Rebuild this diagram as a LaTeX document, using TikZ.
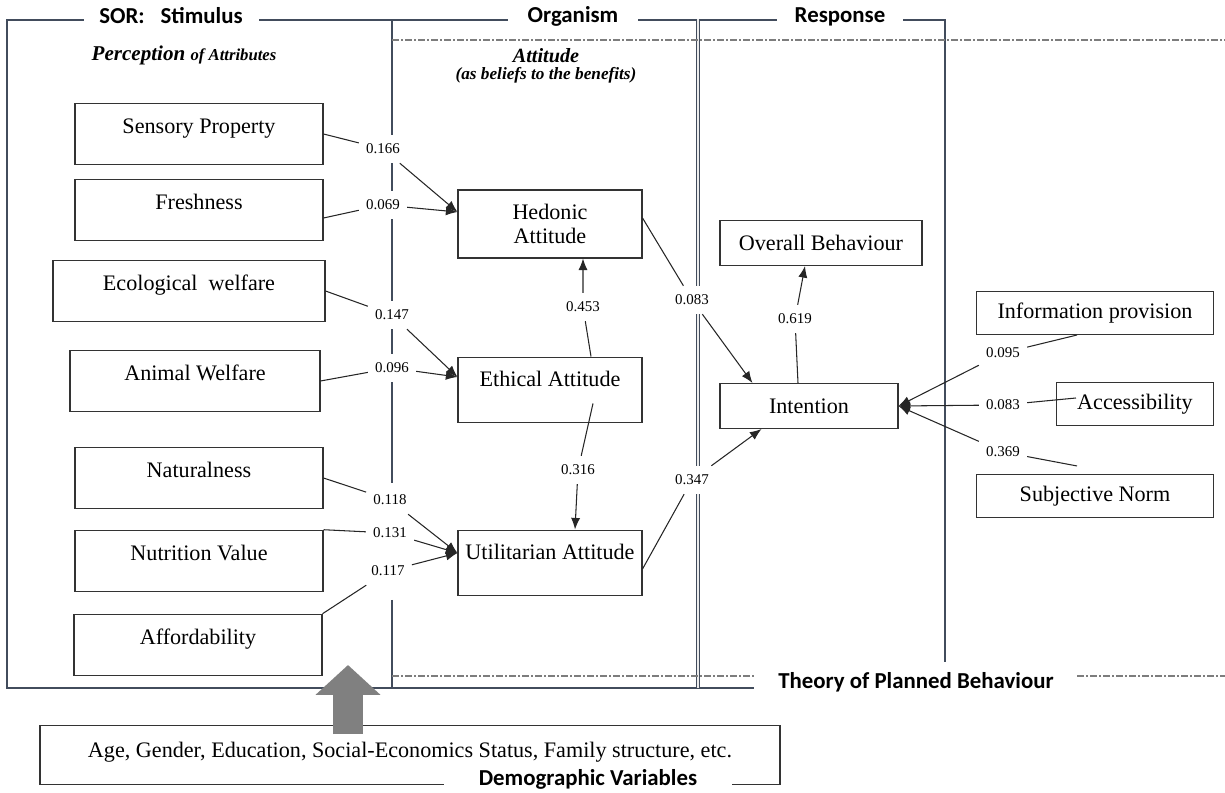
\documentclass[tikz,border=0pt]{standalone}
\usepackage{fontspec}
\setmainfont{Liberation Serif}
\newfontfamily\headfont{Carlito}
\usetikzlibrary{arrows.meta,calc}
\newlength\pxu
\setlength\pxu{0.02cm}
\definecolor{framecol}{RGB}{66,76,92}
\definecolor{dashcol}{RGB}{125,125,125}
\definecolor{demogray}{RGB}{128,128,128}
\begin{document}
\begin{tikzpicture}[x=0.02cm,y=-0.02cm]
            \tikzset{
                framing/.style={draw=framecol,line width=0.75pt},
                dashdot/.style={draw=dashcol,line width=0.6pt,dash pattern=on 4pt off 1.3pt on 0.8pt off 1.3pt},
                databox/.style={draw=black!80,line width=0.6pt,inner sep=0pt,font=\fontsize{12.6}{14}\selectfont},
                attr/.style={databox,text height=17pt,text depth=18pt,minimum width=248\pxu},
                attbox/.style={databox,text height=16.5pt,text depth=21pt,minimum width=184\pxu},
                coef/.style={fill=white,inner xsep=4pt,inner ysep=5pt,font=\fontsize{8.5}{10}\selectfont},
                headtxt/.style={fill=white,inner ysep=1pt,anchor=base,font=\headfont\bfseries\fontsize{13}{15}\selectfont},
                effect/.style={draw=black!85,line width=0.6pt,-{Latex[length=6.6pt,width=5.2pt]}},
                demoarrow/.style={draw=demogray,line width=17.6pt,-{Triangle[length=17pt,width=36pt]}},
            }
            \useasboundingbox (0,0) rectangle (1225,793);
            % frames of stimulus, organism and response
            \draw[framing] (392,20) -- (7,20) -- (7,688) -- (754,688);
            \draw[framing] (392,20) -- (392,483) (392,600) -- (392,688);
            \draw[framing] (392,20) -- (697,20);
            \draw[framing,double=white!85!gray,double distance=1.6pt,line width=0.5pt] (698,19) -- (698,688);
            \draw[framing] (700,20) -- (945,20) -- (945,662);
            \draw[dashdot] (392,40) -- (1225,40);
            \draw[dashdot] (392,676) -- (754,676) (1077,676) -- (1225,676);
            \node[headtxt,inner xsep=9pt] (sor) at (171,24) {SOR:\hspace{0.7em}Stimulus};
            \node[headtxt,inner xsep=11pt] (org) at (573,23) {Organism};
            \node[headtxt,inner xsep=10pt] (resp) at (840,23) {Response};
            \node[headtxt,fill=none] (tpb) at (916,689) {Theory of Planned Behaviour};
            \node[font=\bfseries\itshape\fontsize{12}{14}\selectfont] (perc) at (184,55) {Perception {\fontsize{9.5}{11}\selectfont of Attributes}};
            \node[inner sep=0pt,font=\bfseries\itshape\fontsize{11.5}{13}\selectfont] (att) at (546,56) {Attitude};
            \node[inner sep=0pt,font=\bfseries\itshape\fontsize{9.8}{12}\selectfont] (attsub) at (546,75) {(as beliefs to the benefits)};
            % perceived attributes
            \node[attr] (sens) at (199,134) {Sensory Property};
            \node[attr] (fresh) at (199,210) {Freshness};
            \node[attr,minimum width=272\pxu] (eco) at (189,291) {Ecological\ \ welfare};
            \node[attr,minimum width=250\pxu] (anim) at (195,381) {Animal Welfare};
            \node[attr] (nat) at (199,478) {Naturalness};
            \node[attr] (nut) at (199,561) {Nutrition Value};
            \node[attr] (aff) at (198,645) {Affordability};
            % attitudes
            \node[databox,minimum width=184\pxu,minimum height=68\pxu,align=center] (hed) at (550,224) {Hedonic\\Attitude};
            \node[attbox] (eth) at (550,390) {Ethical Attitude};
            \node[attbox] (util) at (550,563) {Utilitarian Attitude};
            % response side
            \node[databox,minimum width=202\pxu,minimum height=45\pxu] (ovb) at (821,243) {Overall Behaviour};
            \node[databox,minimum width=178\pxu,minimum height=45\pxu] (intn) at (809,406) {Intention};
            \node[databox,minimum width=237\pxu,minimum height=43\pxu] (info) at (1095,313) {Information provision};
            \node[databox,minimum width=157\pxu,minimum height=43\pxu] (acc) at (1135,404) {Accessibility};
            \node[databox,minimum width=237\pxu,minimum height=43\pxu] (subj) at (1095,496) {Subjective Norm};
            % path coefficients
            \node[coef] (c166) at (383,149) {0.166};
            \node[coef] (c069) at (383,205) {0.069};
            \node[coef] (c147) at (392,315) {0.147};
            \node[coef] (c096) at (392,368) {0.096};
            \node[coef] (c118) at (390,500) {0.118};
            \node[coef] (c131) at (390,533) {0.131};
            \node[coef] (c117) at (388,571) {0.117};
            \node[coef] (c453) at (583,307) {0.453};
            \node[coef] (c316) at (578,470) {0.316};
            \node[coef] (c083a) at (692,300) {0.083};
            \node[coef] (c347) at (692,480) {0.347};
            \node[coef] (c619) at (795,319) {0.619};
            \node[coef] (c095) at (1003,353) {0.095};
            \node[coef] (c083b) at (1003,405) {0.083};
            \node[coef] (c369) at (1003,452) {0.369};
            % stimulus -> organism
            \draw[effect] (sens.east) -- (c166) -- ($(hed.west)+(0,-12)$);
            \draw[effect] ($(fresh.east)+(0,8)$) -- (c069) -- ($(hed.west)+(0,-12)$);
            \draw[effect] (eco.east) -- (c147) -- ($(eth.west)+(0,-13)$);
            \draw[effect] (anim.east) -- (c096) -- ($(eth.west)+(0,-13)$);
            \draw[effect] (nat.east) -- (c118) -- ($(util.west)+(0,-10)$);
            \draw[effect] (nut.north east) -- (c131) -- ($(util.west)+(0,-10)$);
            \draw[effect] (aff.north east) -- (c117) -- ($(util.west)+(0,-10)$);
            \draw[effect] ($(eth.north)+(41,0)$) -- (c453) -- ($(hed.south)+(33,0)$);
            \draw[effect] ($(eth.south)+(43,-20)$) -- (c316) -- ($(util.north)+(25,0)$);
            % organism -> response
            \draw[effect] ($(hed.east)+(0,-6)$) -- (c083a) -- ($(intn.north west)+(33,0)$);
            \draw[effect] ($(util.east)+(0,6)$) -- (c347) -- ($(intn.south west)+(42,0)$);
            \draw[effect] ($(intn.north)+(-11,0)$) -- (c619) -- ($(ovb.south)+(-16,0)$);
            \draw[effect] ($(info.south)+(-18,0)$) -- (c095) -- (intn.east);
            \draw[effect] ($(acc.west)+(20,-6)$) -- (c083b) -- (intn.east);
            \draw[effect] ($(subj.north)+(-18,-8)$) -- (c369) -- (intn.east);
            % demographic variables
            \node[databox,minimum width=740\pxu,text height=18pt,text depth=15.5pt] (demo) at (410,755) {Age, Gender, Education, Social-Economics Status, Family structure, etc.};
            \node[headtxt,inner xsep=20pt] (demovar) at (588,786) {Demographic Variables};
            \coordinate (demotip) at (348,665);
            \draw[demoarrow] ($(demo.north -| demotip)+(0,9)$) -- (demotip);
        \end{tikzpicture}
\end{document}
